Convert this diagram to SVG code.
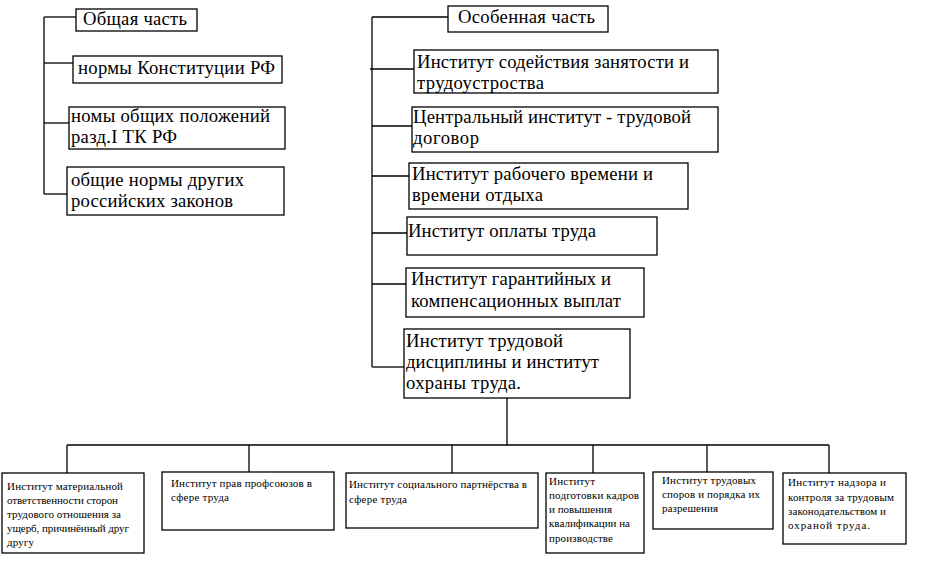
<svg xmlns="http://www.w3.org/2000/svg" width="927" height="577" viewBox="0 0 927 577">
<style>
rect{fill:#fff;stroke:#000;stroke-width:1.3}
.c line{stroke:#000;stroke-width:1.3}
</style>
<rect x="0" y="0" width="927" height="577" style="stroke:none"/>
<g class="c" id="connectors">
<line x1="44" y1="17" x2="44" y2="194"/>
<line x1="44" y1="17" x2="76" y2="17"/>
<line x1="44" y1="63" x2="73" y2="63"/>
<line x1="44" y1="123" x2="69" y2="123"/>
<line x1="44" y1="194" x2="67" y2="194"/>
<line x1="372" y1="17" x2="372" y2="367"/>
<line x1="372" y1="17" x2="448" y2="17"/>
<line x1="370" y1="69" x2="414" y2="69"/>
<line x1="372" y1="126" x2="412" y2="126"/>
<line x1="372" y1="176" x2="409" y2="176"/>
<line x1="372" y1="233" x2="407" y2="233"/>
<line x1="372" y1="284" x2="406" y2="284"/>
<line x1="372" y1="367" x2="404" y2="367"/>
<line x1="507" y1="398" x2="507" y2="445"/>
<line x1="67" y1="445" x2="829" y2="445"/>
<line x1="67" y1="445" x2="67" y2="473"/>
<line x1="249" y1="445" x2="249" y2="472"/>
<line x1="452" y1="445" x2="452" y2="473"/>
<line x1="593" y1="445" x2="593" y2="473"/>
<line x1="707" y1="445" x2="707" y2="472"/>
<line x1="829" y1="445" x2="829" y2="473"/>
</g>
<g font-family="Liberation Serif" font-size="18.67" lengthAdjust="spacing">
<g id="obshaya"><rect x="76" y="9" width="121" height="22"/><text x="83" y="25" textLength="104">Общая часть</text></g>
<g id="konst"><rect x="73" y="56" width="209" height="27"/><text x="78" y="74" textLength="197">нормы Конституции РФ</text></g>
<g id="obsh-pol"><rect x="69" y="107" width="216" height="42"/><text x="71" y="122" textLength="199">номы общих положений</text><text x="71" y="143" textLength="106">разд.I ТК РФ</text></g>
<g id="drugie"><rect x="67" y="167" width="217" height="48"/><text x="71" y="186" textLength="173">общие нормы других</text><text x="71" y="207" textLength="162">российских законов</text></g>
<g id="osob"><rect x="448" y="6" width="160" height="26"/><text x="458" y="23" textLength="137">Особенная часть</text></g>
<g id="sodeist"><rect x="414" y="50" width="304" height="43"/><text x="417" y="68" textLength="272">Институт содействия занятости и</text><text x="417" y="89" textLength="127">трудоустроства</text></g>
<g id="central"><rect x="412" y="107" width="306" height="45"/><text x="413" y="123" textLength="278">Центральный институт - трудовой</text><text x="413" y="144" textLength="66">договор</text></g>
<g id="vremya"><rect x="409" y="163" width="279" height="46"/><text x="412" y="180" textLength="241">Институт рабочего времени и</text><text x="412" y="201" textLength="131">времени отдыха</text></g>
<g id="oplata"><rect x="407" y="217" width="250" height="38"/><text x="408" y="237" textLength="188">Институт оплаты труда</text></g>
<g id="garant"><rect x="406" y="268" width="238" height="49"/><text x="411" y="285" textLength="200">Институт гарантийных и</text><text x="411" y="307" textLength="210">компенсационных выплат</text></g>
<g id="disc"><rect x="404" y="329" width="226" height="69"/><text x="406" y="347" textLength="157">Институт трудовой</text><text x="406" y="368" textLength="193">дисциплины и институт</text><text x="406" y="389" textLength="115">охраны труда.</text></g>
</g>
<g font-family="Liberation Serif" font-size="11">
<g id="mat"><rect x="2" y="473" width="142" height="80"/><text x="7" y="490" textLength="116">Институт материальной</text><text x="7" y="504" textLength="111">ответственности сторон</text><text x="7" y="518" textLength="114">трудового отношения за</text><text x="7" y="532" textLength="122">ущерб, причинённый друг</text><text x="7" y="546" textLength="27">другу</text></g>
<g id="prof"><rect x="162" y="472" width="172" height="58"/><text x="171" y="487" textLength="141">Институт прав профсоюзов в</text><text x="171" y="501" textLength="58">сфере труда</text></g>
<g id="soc"><rect x="346" y="473" width="192" height="55"/><text x="349" y="488" textLength="178">Институт социального партнёрства в</text><text x="349" y="503" textLength="58">сфере труда</text></g>
<g id="kadry"><rect x="546" y="473" width="98" height="80"/><text x="549" y="485" textLength="46">Институт</text><text x="549" y="499" textLength="90">подготовки кадров</text><text x="549" y="513" textLength="63">и повышения</text><text x="549" y="527" textLength="81">квалификации на</text><text x="549" y="542" textLength="64">производстве</text></g>
<g id="spory"><rect x="653" y="472" width="120" height="57"/><text x="662" y="484" textLength="94">Институт трудовых</text><text x="662" y="498" textLength="98">споров и порядка их</text><text x="662" y="512" textLength="56">разрешения</text></g>
<g id="nadzor"><rect x="783" y="473" width="123" height="71"/><text x="788" y="486" textLength="98">Институт надзора и</text><text x="788" y="501" textLength="106">контроля за трудовым</text><text x="788" y="515" textLength="98">законодательством и</text><text x="788" y="529" textLength="82">охраной труда.</text></g>
</g>
</svg>
